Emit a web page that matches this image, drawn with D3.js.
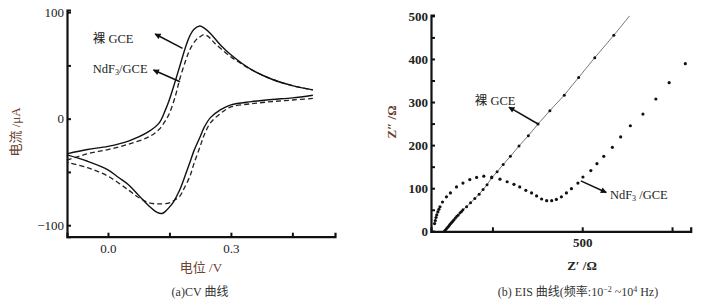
<!DOCTYPE html>
<html>
<head>
<meta charset="utf-8">
<script src="https://cdn.jsdelivr.net/npm/d3@7"></script>
<style>
  body { margin: 0; background: #fff; }
  text { font-family: "Liberation Serif", "Noto Sans CJK SC", serif; }
</style>
</head>
<body>
<script>
// Constants
var w = 706,
    h = 306;

// CV data: [potential V, current uA]
var bareFwd = [[-0.1,-33],[-0.05,-29],[0,-26],[0.05,-21],[0.1,-12],[0.125,-4],[0.14,8],[0.15,18],
  [0.16,30],[0.175,49],[0.19,68],[0.2,78],[0.21,84],[0.224,87],[0.235,85],[0.25,80],[0.275,69],
  [0.3,60],[0.35,46],[0.4,37],[0.45,31],[0.5,27]];
var bareRev = [[0.5,22],[0.45,19.5],[0.4,18],[0.35,16],[0.3,13],[0.275,8.5],[0.25,1],[0.235,-8],
  [0.225,-17],[0.21,-30],[0.2,-41],[0.185,-57],[0.175,-67],[0.16,-78],[0.15,-83],[0.14,-87],
  [0.132,-89],[0.12,-88],[0.1,-82],[0.075,-72],[0.05,-62],[0.025,-55],[0,-48],[-0.05,-40],[-0.1,-34]];
var ndfFwd = [[-0.1,-39],[-0.05,-33],[0,-29],[0.05,-24],[0.1,-17],[0.125,-10],[0.14,-2],[0.15,5],
  [0.165,22],[0.175,37],[0.19,55],[0.2,65],[0.215,74],[0.225,77],[0.234,79],[0.245,77],[0.26,71],
  [0.3,58],[0.35,46],[0.4,37],[0.45,31],[0.5,27]];
var ndfRev = [[0.5,19],[0.45,17.5],[0.4,16],[0.35,14],[0.3,11],[0.275,5],[0.25,-4],[0.235,-15],
  [0.225,-26],[0.21,-42],[0.2,-54],[0.185,-66],[0.175,-73],[0.16,-77],[0.15,-79],[0.125,-80],
  [0.1,-79],[0.075,-74],[0.05,-67],[0,-54],[-0.05,-46],[-0.1,-41]];

var cvXTicks = [0, 0.15, 0.3, 0.45],
    cvXLabels = [0, 0.3],
    cvYTicks = [-100, -50, 0, 50, 100],
    cvYLabels = [-100, 0, 100];

// EIS data: [Z' ohm, Z'' ohm]
var bareEis = [[116,0],[119,3],[122,6],[125,9],[128,12],[131,15],[134,18],[137,21],[140,24],[143,27],
  [147,31],[151,35],[155,38],[160,43],[164,46],[168,50],[178,57],[189,66],[201,76],[213,86],[224,97],
  [235,108],[248,124],[263,138],[280,155],[300,174],[324,198],[350,222],[377,249],[410,280],[450,316],
  [490,357],[535,403],[588,455]];
var bareLineEnd = [632, 500];
var ndfEis = [[89,18],[91,25],[93,32],[95,38],[98,45],[101,51],[104,57],[111,68],[122,80],[133,89],
  [150,103],[168,112],[187,120],[206,125],[226,128],[248,126],[271,121],[291,115],[310,109],[326,103],
  [343,95],[359,89],[373,82],[387,75],[401,71],[415,71],[428,74],[442,80],[456,89],[470,99],[488,112],
  [502,126],[524,141],[541,157],[560,174],[584,195],[607,219],[634,245],[669,272],[705,307],[742,345],
  [787,389]];

var eisXTicks = [250, 500, 750],
    eisXLabels = [500],
    eisYTicks = [0, 50, 100, 150, 200, 250, 300, 350, 400, 450, 500],
    eisYLabels = [0, 100, 200, 300, 400, 500];

var titleColor = '#6a4230';

var svg = d3.select('body')
            .append('svg')
            .attr('width', w)
            .attr('height', h);

svg.append('defs').append('marker')
   .attr('id', 'arrow')
   .attr('viewBox', '0 0 10 10')
   .attr('refX', 9).attr('refY', 5)
   .attr('markerWidth', 7).attr('markerHeight', 6)
   .attr('markerUnits', 'userSpaceOnUse')
   .attr('orient', 'auto')
   .append('path')
   .attr('d', 'M0,0L10,5L0,10z')
   .attr('fill', '#111');

// ---------- (a) CV ----------
var xCv = d3.scaleLinear().domain([-0.1, 0.554]).range([67, 335]);
var yCv = d3.scaleLinear().domain([-110.8, 102]).range([236.7, 10]);

var cvLine = d3.line()
               .x(function(d) { return xCv(d[0]); })
               .y(function(d) { return yCv(d[1]); })
               .curve(d3.curveCatmullRom);

// each scan branch drawn on its own so the ends stay open at 0.5 V
[ndfFwd, ndfRev].forEach(function(branch) {
  svg.append('path')
     .attr('d', cvLine(branch))
     .attr('fill', 'none')
     .attr('stroke', '#222')
     .attr('stroke-width', 1.3)
     .attr('stroke-dasharray', '5,3');
});

[bareFwd, bareRev].forEach(function(branch) {
  svg.append('path')
     .attr('d', cvLine(branch))
     .attr('fill', 'none')
     .attr('stroke', '#111')
     .attr('stroke-width', 1.4);
});

var cvXAxis = d3.axisBottom(xCv).tickValues(cvXTicks).tickSize(-4)
                .tickFormat(function(d) { return cvXLabels.indexOf(d) >= 0 ? d3.format('.1f')(d) : ''; });
var cvYAxis = d3.axisLeft(yCv).tickValues(cvYTicks).tickSize(-4)
                .tickFormat(function(d) { return cvYLabels.indexOf(d) >= 0 ? d3.format('')(d) : ''; });

function styleAxis(g) {
  g.select('.domain').attr('stroke', '#111').attr('stroke-width', 2.2);
  g.selectAll('.tick line').attr('stroke', '#111').attr('stroke-width', 2);
  g.selectAll('.tick text').attr('fill', '#222').style('font-size', '13px')
   .style('font-family', '"Liberation Serif", serif');
}

svg.append('g')
   .attr('transform', 'translate(0,' + 236.7 + ')')
   .call(cvXAxis)
   .call(styleAxis)
   .call(function(g) { g.selectAll('.tick text').attr('dy', '1.0em'); });

svg.append('g')
   .attr('transform', 'translate(67,0)')
   .call(cvYAxis)
   .call(styleAxis)
   .call(function(g) { g.selectAll('.tick text').attr('x', -3); });

// annotations (a)
svg.append('text').attr('x', xCv(-0.037)).attr('y', yCv(71))
   .style('font-size', '12.5px').attr('fill', '#222').text('裸 GCE');
svg.append('text').attr('x', xCv(-0.037)).attr('y', yCv(42.8))
   .style('font-size', '12.5px').attr('fill', '#222')
   .call(function(t) {
     t.append('tspan').text('NdF');
     t.append('tspan').text('3').style('font-size', '8px').attr('dy', 2);
     t.append('tspan').text('/GCE').attr('dy', -2);
   });
svg.append('line')
   .attr('x1', xCv(0.182)).attr('y1', yCv(66))
   .attr('x2', xCv(0.115)).attr('y2', yCv(79.5))
   .attr('stroke', '#111').attr('stroke-width', 1.5)
   .attr('marker-end', 'url(#arrow)');
svg.append('line')
   .attr('x1', xCv(0.176)).attr('y1', yCv(34.7))
   .attr('x2', xCv(0.111)).attr('y2', yCv(45.7))
   .attr('stroke', '#111').attr('stroke-width', 1.5)
   .attr('marker-end', 'url(#arrow)');

svg.append('text').attr('x', 201).attr('y', 272).attr('text-anchor', 'middle')
   .style('font-size', '13px').attr('fill', titleColor)
   .text('电位 /V');
svg.append('text').attr('transform', 'translate(20,132) rotate(-90)').attr('text-anchor', 'middle')
   .style('font-size', '13px').attr('fill', titleColor)
   .text('电流 /μA');
svg.append('text').attr('x', 200).attr('y', 296).attr('text-anchor', 'middle')
   .style('font-size', '12px').attr('fill', '#333')
   .text('(a)CV 曲线');

// ---------- (b) EIS ----------
var xEis = d3.scaleLinear().domain([79, 802]).range([431, 690.7]);
var yEis = d3.scaleLinear().domain([0, 502]).range([231.3, 15]);

var eisLine = d3.line()
                .x(function(d) { return xEis(d[0]); })
                .y(function(d) { return yEis(d[1]); });

svg.append('path')
   .attr('d', eisLine(bareEis.concat([bareLineEnd])))
   .attr('fill', 'none')
   .attr('stroke', '#555')
   .attr('stroke-width', 0.8);

svg.selectAll('circle.bare')
   .data(bareEis)
   .enter()
   .append('circle')
   .attr('class', 'bare')
   .attr('cx', function(d) { return xEis(d[0]); })
   .attr('cy', function(d) { return yEis(d[1]); })
   .attr('r', 1.5)
   .attr('fill', '#111');

svg.selectAll('circle.ndf')
   .data(ndfEis)
   .enter()
   .append('circle')
   .attr('class', 'ndf')
   .attr('cx', function(d) { return xEis(d[0]); })
   .attr('cy', function(d) { return yEis(d[1]); })
   .attr('r', 1.6)
   .attr('fill', '#111');

var eisXAxis = d3.axisBottom(xEis).tickValues(eisXTicks).tickSize(-4)
                 .tickFormat(function(d) { return eisXLabels.indexOf(d) >= 0 ? d : ''; });
var eisYAxis = d3.axisLeft(yEis).tickValues(eisYTicks).tickSize(-4)
                 .tickFormat(function(d) { return eisYLabels.indexOf(d) >= 0 ? d : ''; });

svg.append('g')
   .attr('transform', 'translate(0,231.3)')
   .call(eisXAxis)
   .call(styleAxis)
   .call(function(g) { g.selectAll('.tick text').attr('dy', '1.0em').style('font-weight', 'bold'); });

svg.append('g')
   .attr('transform', 'translate(431,0)')
   .call(eisYAxis)
   .call(styleAxis)
   .call(function(g) { g.selectAll('.tick text').attr('x', -3).style('font-weight', 'bold'); });

// annotations (b)
svg.append('text').attr('x', xEis(201)).attr('y', yEis(293))
   .style('font-size', '12.5px').attr('fill', '#222').text('裸 GCE');
svg.append('line')
   .attr('x1', xEis(377)).attr('y1', yEis(249))
   .attr('x2', xEis(296)).attr('y2', yEis(288))
   .attr('stroke', '#111').attr('stroke-width', 1.5)
   .attr('marker-end', 'url(#arrow)');
svg.append('text').attr('x', xEis(577)).attr('y', yEis(75))
   .style('font-size', '12.5px').attr('fill', '#222')
   .call(function(t) {
     t.append('tspan').text('NdF');
     t.append('tspan').text('3').style('font-size', '8px').attr('dy', 2);
     t.append('tspan').text(' /GCE').attr('dy', -2);
   });
svg.append('line')
   .attr('x1', xEis(496)).attr('y1', yEis(117))
   .attr('x2', xEis(567)).attr('y2', yEis(90))
   .attr('stroke', '#111').attr('stroke-width', 1.5)
   .attr('marker-end', 'url(#arrow)');

svg.append('text').attr('x', 582).attr('y', 270).attr('text-anchor', 'middle')
   .style('font-size', '13px').style('font-weight', 'bold').attr('fill', '#222')
   .text('Z′ /Ω');
svg.append('text').attr('transform', 'translate(396,122) rotate(-90)').attr('text-anchor', 'middle')
   .style('font-size', '13px').style('font-weight', 'bold').attr('fill', titleColor)
   .text('Z″ /Ω');
svg.append('text').attr('x', 578).attr('y', 296).attr('text-anchor', 'middle')
   .style('font-size', '12px').attr('fill', '#333')
   .call(function(t) {
     t.append('tspan').text('(b) EIS 曲线(频率:10');
     t.append('tspan').text('−2').style('font-size', '8px').attr('dy', -4);
     t.append('tspan').text(' ~10').attr('dy', 4);
     t.append('tspan').text('4').style('font-size', '8px').attr('dy', -4);
     t.append('tspan').text(' Hz)').attr('dy', 4);
   });
</script>
</body>
</html>
